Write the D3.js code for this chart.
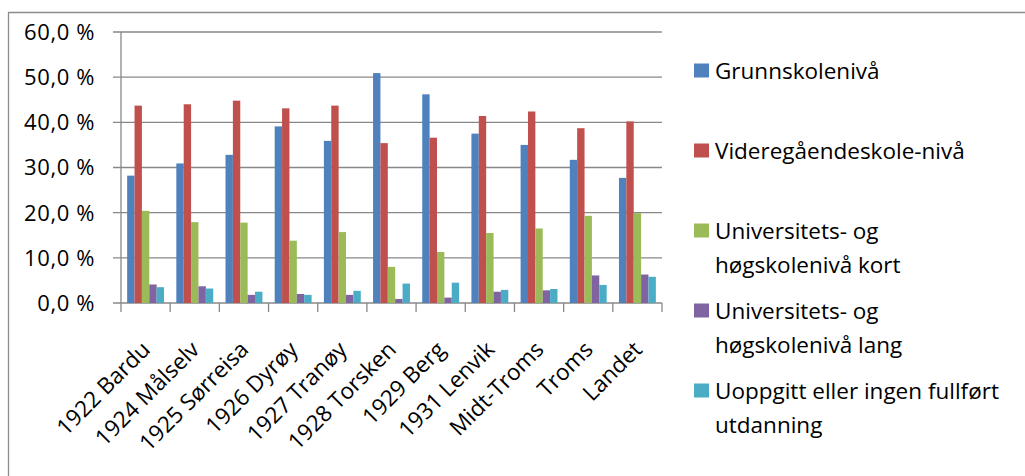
<!DOCTYPE html>
<html>
<head>
<meta charset="utf-8">
<script src="https://cdn.jsdelivr.net/npm/d3@7"></script>
<style>
  body { margin: 0; background: #fff; }
  svg { display: block; font-family: "Open Sans", sans-serif; }
</style>
</head>
<body>
<div id="chart"></div>
<script>
const categories = ["1922 Bardu", "1924 Målselv", "1925 Sørreisa", "1926 Dyrøy", "1927 Tranøy",
  "1928 Torsken", "1929 Berg", "1931 Lenvik", "Midt-Troms", "Troms", "Landet"];
const seriesNames = [
  ["Grunnskolenivå"],
  ["Videregåendeskole-nivå"],
  ["Universitets- og", "høgskolenivå kort"],
  ["Universitets- og", "høgskolenivå lang"],
  ["Uoppgitt eller ingen fullført", "utdanning"]
];
const grunnskole   = [28.2, 30.9, 32.8, 39.1, 35.9, 50.9, 46.2, 37.5, 35.0, 31.7, 27.7];
const videregaende = [43.7, 44.0, 44.8, 43.1, 43.7, 35.4, 36.6, 41.4, 42.4, 38.7, 40.2];
const uniKort      = [20.4, 17.9, 17.8, 13.8, 15.7, 8.0, 11.3, 15.5, 16.5, 19.3, 19.9];
const uniLang      = [4.1, 3.7, 1.8, 2.0, 1.8, 0.9, 1.2, 2.5, 2.8, 6.1, 6.3];
const uoppgitt     = [3.5, 3.2, 2.5, 1.8, 2.7, 4.3, 4.5, 2.9, 3.1, 4.0, 5.8];
const yTicks = [0, 10, 20, 30, 40, 50, 60];

const series = [grunnskole, videregaende, uniKort, uniLang, uoppgitt];
const colors = ["#4F81BD", "#C0504D", "#9BBB59", "#8064A2", "#4BACC6"];

const W = 1025, H = 476;
const margin = { top: 32, left: 121, right: 363, bottom: 173 };
const width = W - margin.left - margin.right;
const height = H - margin.top - margin.bottom;

const svg = d3.select("#chart").append("svg")
  .attr("width", W)
  .attr("height", H);

// outer chart border (only top and left show in the crop)
svg.append("path")
  .attr("d", `M8.5,${H} V12.5 H${W}`)
  .attr("fill", "none")
  .attr("stroke", "#8c8c8c")
  .attr("stroke-width", 1.3);

const chart = svg.append("g")
  .attr("transform", `translate(${margin.left},${margin.top})`);

const x0 = d3.scaleBand()
  .domain(categories)
  .range([0, width])
  .padding(0);

const x1 = d3.scaleBand()
  .domain(d3.range(series.length))
  .range([x0.bandwidth() * 0.125, x0.bandwidth() * 0.875])
  .padding(0);

const y = d3.scaleLinear()
  .domain([0, 60])
  .range([height, 0]);

// gridlines
chart.append("g")
  .selectAll("line")
  .data(yTicks)
  .enter()
  .append("line")
  .attr("x1", -8)
  .attr("x2", width)
  .attr("y1", d => y(d))
  .attr("y2", d => y(d))
  .attr("stroke", "#888")
  .attr("stroke-width", 1.3);

// y axis line
chart.append("line")
  .attr("x1", 0).attr("x2", 0)
  .attr("y1", 0).attr("y2", height)
  .attr("stroke", "#888")
  .attr("stroke-width", 1.3);

// y labels
chart.append("g")
  .selectAll("text")
  .data(yTicks)
  .enter()
  .append("text")
  .attr("x", -26)
  .attr("y", d => y(d))
  .attr("dy", "0.36em")
  .attr("text-anchor", "end")
  .style("font-size", "22px")
  .style("letter-spacing", "0.6px")
  .attr("fill", "#000")
  .text(d => d3.format(".1f")(d).replace(".", ",") + " %");

// bars
const groups = chart.append("g")
  .selectAll("g")
  .data(categories)
  .enter()
  .append("g")
  .attr("transform", d => `translate(${x0(d)},0)`);

groups.selectAll("rect")
  .data((d, i) => series.map((s, k) => ({ k, v: s[i] })))
  .enter()
  .append("rect")
  .attr("x", d => x1(d.k))
  .attr("y", d => y(d.v))
  .attr("width", x1.bandwidth())
  .attr("height", d => height - y(d.v))
  .attr("fill", d => colors[d.k]);

// category boundary ticks
chart.append("g")
  .selectAll("line")
  .data(d3.range(categories.length + 1))
  .enter()
  .append("line")
  .attr("x1", i => i * x0.bandwidth())
  .attr("x2", i => i * x0.bandwidth())
  .attr("y1", height)
  .attr("y2", height + 9)
  .attr("stroke", "#888")
  .attr("stroke-width", 1.3);

// category labels, rotated
chart.append("g")
  .selectAll("text")
  .data(categories)
  .enter()
  .append("text")
  .attr("transform", d => `translate(${x0(d) + x0.bandwidth() / 2 + 6},${height + 48}) rotate(-45)`)
  .attr("text-anchor", "end")
  .style("font-size", "22.5px")
  .attr("fill", "#000")
  .text(d => d);

// legend
const legend = svg.append("g")
  .attr("transform", "translate(694,0)");

const item = legend.selectAll("g")
  .data(seriesNames)
  .enter()
  .append("g")
  .attr("transform", (d, i) => `translate(0,${70.5 + i * 80})`);

item.append("rect")
  .attr("x", 0)
  .attr("y", -7)
  .attr("width", 15)
  .attr("height", 14)
  .attr("fill", (d, i) => colors[i]);

item.each(function(lines) {
  d3.select(this).selectAll("text")
    .data(lines)
    .enter()
    .append("text")
    .attr("x", 21)
    .attr("y", (d, j) => 8 + j * 34)
    .style("font-size", "22.5px")
    .attr("fill", "#000")
    .text(d => d);
});
</script>
</body>
</html>
